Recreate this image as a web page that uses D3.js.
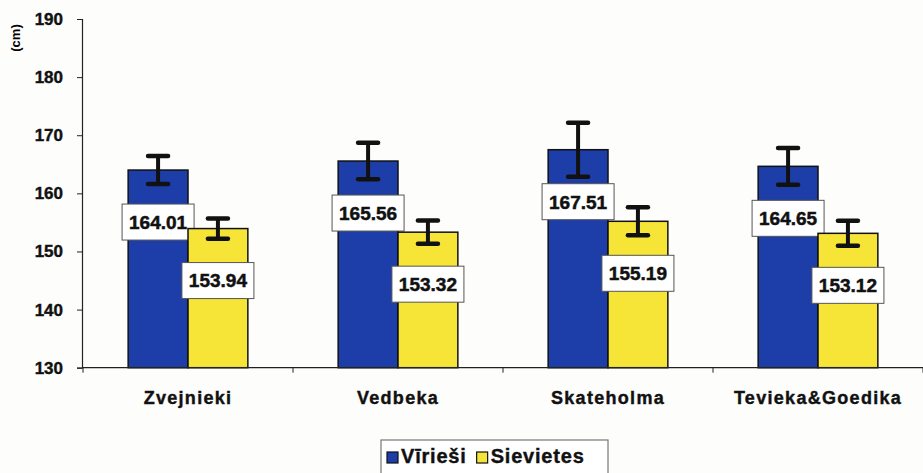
<!DOCTYPE html>
<html>
<head>
<meta charset="utf-8">
<script src="https://cdn.jsdelivr.net/npm/d3@7/dist/d3.min.js"></script>
<style>
  body { margin: 0; background: #fdfdfc; }
  svg { display: block; font-family: "Liberation Sans", Arial, sans-serif; }
</style>
</head>
<body>
<svg width="923" height="473"></svg>
<script>
// data
var sites = ["Zvejnieki", "Vedbeka", "Skateholma", "Tevieka&Goedika"]
var men = [164.01, 165.56, 167.51, 164.65]
var women = [153.94, 153.32, 155.19, 153.12]
var menErr = [2.4, 3.15, 4.65, 3.15]
var womenErr = [1.75, 2.0, 2.4, 2.15]
var seriesNames = ["Vīrieši", "Sievietes"]
var yTicks = [130, 140, 150, 160, 170, 180, 190]

var colors = {"Vīrieši": "#1d3ea8", "Sievietes": "#f6e537"}

var svg = d3.select("svg")

var y = d3.scaleLinear().domain([130, 190]).range([367.7, 19])
var x0 = d3.scaleBand().domain(sites).range([83, 923]).paddingInner(0.43).paddingOuter(0.215)
var x1 = d3.scaleBand().domain(seriesNames).range([0, x0.bandwidth()])

var rows = []
sites.forEach(function(s, i) {
  rows.push({site: s, series: "Vīrieši", value: men[i], err: menErr[i]})
  rows.push({site: s, series: "Sievietes", value: women[i], err: womenErr[i]})
})

// y axis
var yAxis = svg.append("g")
  .attr("transform", "translate(82,0)")
  .call(d3.axisLeft(y).tickValues(yTicks).tickSize(5).tickPadding(14))
yAxis.select(".domain").attr("stroke", "#222").attr("stroke-width", 1.2)
yAxis.selectAll(".tick line").attr("stroke", "#222")
yAxis.selectAll("text").attr("font-size", 17).attr("font-weight", "bold").attr("fill", "#111")
  .attr("stroke", "#111").attr("stroke-width", 0.4)

svg.append("text")
  .attr("transform", "translate(20,38) rotate(-90)")
  .attr("text-anchor", "middle")
  .attr("font-size", 13).attr("font-weight", "bold")
  .text("(cm)")

// bars
var bars = svg.append("g").selectAll("g")
  .data(rows)
  .join("g")
  .attr("transform", function(d) { return "translate(" + (x0(d.site) + x1(d.series)) + ",0)" })

bars.append("rect")
  .attr("x", 0)
  .attr("width", x1.bandwidth())
  .attr("y", function(d) { return y(d.value) })
  .attr("height", function(d) { return y(130) - y(d.value) })
  .attr("fill", function(d) { return colors[d.series] })
  .attr("stroke", "#111").attr("stroke-width", 1.5)

// error bars
var cx = x1.bandwidth() / 2
bars.append("line")
  .attr("x1", cx).attr("x2", cx)
  .attr("y1", function(d) { return y(d.value + d.err) })
  .attr("y2", function(d) { return y(d.value - d.err) })
  .attr("stroke", "#111").attr("stroke-width", 4)
bars.selectAll("line.cap")
  .data(function(d) { return [d.value + d.err, d.value - d.err] })
  .join("line")
  .attr("class", "cap")
  .attr("x1", cx - 10).attr("x2", cx + 10)
  .attr("y1", function(v) { return y(v) }).attr("y2", function(v) { return y(v) })
  .attr("stroke", "#111").attr("stroke-width", 4.5).attr("stroke-linecap", "round")

// x axis
svg.append("line")
  .attr("x1", 83).attr("x2", 923)
  .attr("y1", y(130)).attr("y2", y(130))
  .attr("stroke", "#222").attr("stroke-width", 1.2)
var bounds = sites.map(function(s) { return x0(s) - x0.step() * x0.paddingInner() / 2 }).concat([923])
svg.append("g").selectAll("line")
  .data(bounds)
  .join("line")
  .attr("x1", function(d) { return d }).attr("x2", function(d) { return d })
  .attr("y1", y(130)).attr("y2", y(130) + 5)
  .attr("stroke", "#222")

svg.append("g").selectAll("text")
  .data(sites)
  .join("text")
  .attr("x", function(d) { return x0(d) + x0.bandwidth() / 2 })
  .attr("y", 404)
  .attr("text-anchor", "middle")
  .attr("font-size", 18).attr("font-weight", "bold")
  .attr("letter-spacing", 1.3)
  .attr("fill", "#111").attr("stroke", "#111").attr("stroke-width", 0.4)
  .text(function(d) { return d })

// value labels
var labels = bars.append("g")
  .attr("transform", function(d) { return "translate(" + cx + "," + (y(d.value) + 52) + ")" })
labels.append("rect")
  .attr("x", -36).attr("y", -18)
  .attr("width", 72).attr("height", 36)
  .attr("fill", "#fff").attr("stroke", "#555").attr("stroke-width", 1)
labels.append("text")
  .attr("text-anchor", "middle")
  .attr("dy", "0.36em")
  .attr("font-size", 19).attr("font-weight", "bold")
  .attr("fill", "#111").attr("stroke", "#111").attr("stroke-width", 0.5)
  .text(function(d) { return d.value.toFixed(2) })

// legend
var legend = svg.append("g")
legend.append("rect")
  .attr("x", 381).attr("y", 440)
  .attr("width", 227).attr("height", 45)
  .attr("fill", "#fff").attr("stroke", "#777").attr("stroke-width", 1.2)
var items = legend.selectAll("g.item")
  .data(seriesNames)
  .join("g")
  .attr("class", "item")
items.append("rect")
  .attr("y", -11)
  .attr("width", 11).attr("height", 11)
  .attr("fill", function(d) { return colors[d] })
  .attr("stroke", "#111").attr("stroke-width", 1.2)
items.append("text")
  .attr("x", 14).attr("y", 0)
  .attr("font-size", 20).attr("font-weight", "bold")
  .attr("letter-spacing", 0.8)
  .attr("fill", "#111").attr("stroke", "#111").attr("stroke-width", 0.4)
  .text(function(d) { return d })
// lay the items out side by side after measuring them
var lx = 387
items.each(function() {
  d3.select(this).attr("transform", "translate(" + lx + ",463)")
  lx += 14 + d3.select(this).select("text").node().getComputedTextLength() + 10
})
</script>
</body>
</html>
